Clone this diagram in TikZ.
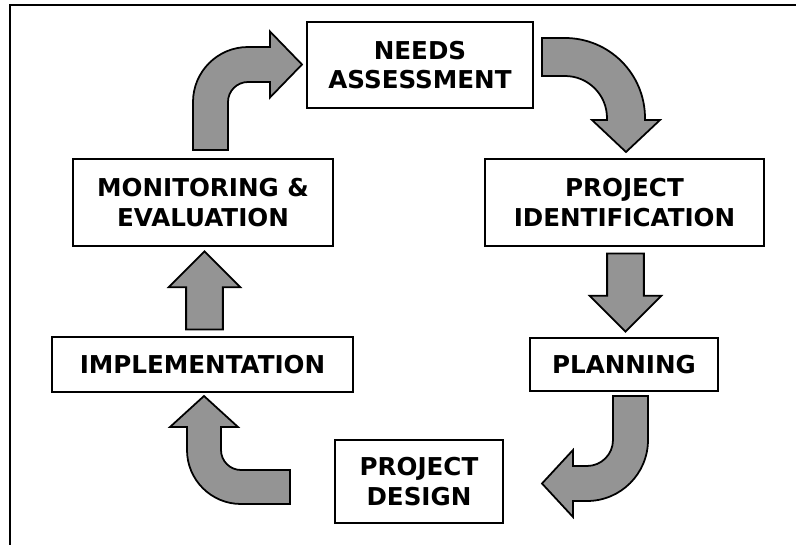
\documentclass[tikz,border=0pt]{standalone}
\usepackage{fontspec}
\setmainfont{DejaVu Sans}
\usetikzlibrary{calc,shapes.arrows}

\tikzset{
  stage/.style={draw=black,line width=0.8pt,fill=white,align=center,
    inner sep=0pt,font=\bfseries\fontsize{14}{17}\selectfont},
  blockarrow/.style={draw=black,line width=1pt,fill=black!42},
  straightarrow/.style={blockarrow,single arrow,inner xsep=0pt,inner ysep=0.35cm,
    single arrow head extend=0.35cm,minimum height=1.56cm,anchor=tail},
}

\begin{document}
\begin{tikzpicture}[x=0.02cm,y=-0.02cm]
\useasboundingbox (0,0) rectangle (796,545);
% frame
\draw[line width=1.1pt] (10,545) -- (10,5) -- (796,5);
% stages of the cycle
\node[stage,minimum width=4.52cm,minimum height=1.72cm] (needs) at (420,65) {NEEDS\\ASSESSMENT};
\node[stage,minimum width=5.58cm,minimum height=1.74cm] (ident) at (624.5,202.5) {PROJECT\\IDENTIFICATION};
\node[stage,minimum width=3.76cm,minimum height=1.06cm] (plan) at (624,364.5) {PLANNING};
\node[stage,minimum width=3.36cm,minimum height=1.66cm] (design) at (419,481.5) {PROJECT\\DESIGN};
\node[stage,minimum width=6.02cm,minimum height=1.10cm] (impl) at (202.5,364.5) {IMPLEMENTATION};
\node[stage,minimum width=5.20cm,minimum height=1.74cm] (monitor) at (203,202.5) {MONITORING \&\\EVALUATION};
% straight arrows
\node[straightarrow,rotate=-90] (identplan) at ($(ident.south)+(1,6)$) {};
\node[straightarrow,rotate=90] (implmonitor) at ($(impl.north)+(2,-6)$) {};
% bent arrows
\draw[blockarrow] (193,150) -- (193,102) arc[start angle=180,end angle=270,radius=55]
  -- (270,47) -- (270,31.5) -- (302,64.5) -- (270,97.5) -- (270,82) -- (248,82)
  arc[start angle=270,end angle=180,radius=20] -- (228,150) -- cycle;
\draw[blockarrow] (542,38) -- (565,38) arc[start angle=270,end angle=360,radius=80]
  -- (645,120) -- (660,120) -- (626,152) -- (592,120) -- (607,120) -- (607,118)
  arc[start angle=0,end angle=-90,radius=42] -- (542,76) -- cycle;
\draw[blockarrow] (613,396) -- (648,396) -- (648,440) arc[start angle=0,end angle=90,radius=61]
  -- (573,501) -- (573,517) -- (542,483.5) -- (573,450) -- (573,466) -- (587,466)
  arc[start angle=90,end angle=0,radius=26] -- cycle;
\draw[blockarrow] (290,470) -- (241,470) arc[start angle=90,end angle=180,radius=20]
  -- (221,427) -- (238,427) -- (204,396) -- (170,427) -- (187,427) -- (187,450)
  arc[start angle=180,end angle=90,radius=54] -- (290,504) -- cycle;
\end{tikzpicture}
\end{document}
